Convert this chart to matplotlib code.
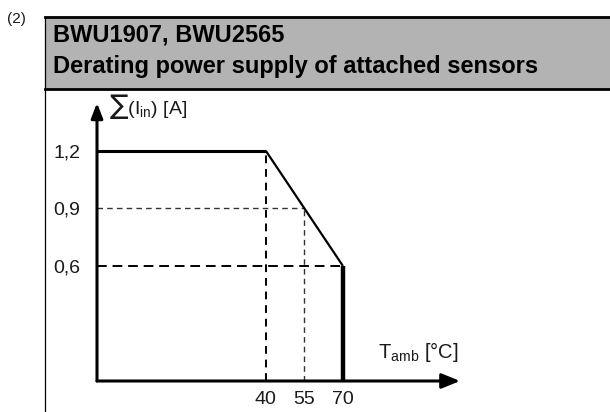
import matplotlib
matplotlib.use("Agg")
import matplotlib.pyplot as plt
from matplotlib.patches import Rectangle
from matplotlib.lines import Line2D

plt.rcParams['font.family'] = ['Liberation Sans', 'DejaVu Sans']
plt.rcParams['mathtext.default'] = 'regular'

# Daten der Derating-Kurve
temps = [40, 55, 70]          # T_amb [°C]
currents = [1.2, 0.9, 0.6]    # Summe I_in [A]
x_ticks = [40, 55, 70]
x_labels = ['40', '55', '70']
y_ticks = [0.6, 0.9, 1.2]
y_labels = ['0,6', '0,9', '1,2']

W, H = 610, 412
fig = plt.figure(figsize=(W / 100, H / 100), dpi=100)

# Kopfzeile (grauer Kasten) + linker Rahmen
fig.patches.append(Rectangle((45 / W, 1 - 89 / H), 1 - 45 / W, 72 / H,
                             transform=fig.transFigure, facecolor='#b3b3b3',
                             edgecolor='none'))
fig.lines.append(Line2D([45 / W, 1], [1 - 17 / H] * 2, transform=fig.transFigure,
                        color='black', lw=2))
fig.lines.append(Line2D([45 / W, 1], [1 - 89 / H] * 2, transform=fig.transFigure,
                        color='black', lw=2))
fig.lines.append(Line2D([45 / W] * 2, [0, 1 - 17 / H], transform=fig.transFigure,
                        color='black', lw=0.9))
fig.text(7 / W, 1 - 19 / H, '(2)', fontsize=11, va='center', ha='left',
         color='#1a1a1a')
fig.text(53 / W, 1 - 35 / H, 'BWU1907, BWU2565', fontsize=17, weight='bold',
         va='center', ha='left')
fig.text(53 / W, 1 - 67 / H, 'Derating power supply of attached sensors',
         fontsize=17, weight='bold', va='center', ha='left')

# Diagramm
x0, x1 = -25.8, 115.6
y0, y1 = 0, 1.45
ax = fig.add_axes([97 / W, (H - 381) / H, 363 / W, 278 / H])
ax.set_xlim(x0, x1)
ax.set_ylim(y0, y1)
for s in ax.spines.values():
    s.set_visible(False)
ax.patch.set_visible(False)

# Achsen mit Pfeilen
ax.annotate('', xy=(x1, 0), xytext=(x0, 0),
            arrowprops=dict(arrowstyle='-|>,head_length=1.1,head_width=0.45',
                            lw=2.2, color='black', shrinkA=0, shrinkB=0),
            annotation_clip=False)
ax.annotate('', xy=(x0, y1), xytext=(x0, 0),
            arrowprops=dict(arrowstyle='-|>,head_length=0.9,head_width=0.35',
                            lw=2.2, color='black', shrinkA=0, shrinkB=0),
            annotation_clip=False)

# Hilfslinien (gestrichelt)
ax.plot([temps[0], temps[0]], [0, currents[0]], color='black', lw=1.4,
        ls=(0, (4, 3)))
ax.plot([temps[1], temps[1]], [0, currents[1]], color='#333333', lw=1.0,
        ls=(0, (4, 3)))
ax.plot([x0, temps[1]], [currents[1], currents[1]], color='#333333', lw=1.0,
        ls=(0, (4, 3)))
ax.plot([x0, temps[2]], [currents[2], currents[2]], color='black', lw=1.4,
        ls=(0, (5, 3)))

# Kennlinie
ax.plot([x0, temps[0]], [currents[0], currents[0]], color='black', lw=2.2,
        solid_capstyle='butt')
ax.plot(temps, currents, color='black', lw=1.6, solid_capstyle='butt')
ax.plot([temps[2], temps[2]], [0, currents[2]], color='black', lw=3.2,
        solid_capstyle='butt')

ax.set_xticks(x_ticks, x_labels)
ax.set_yticks(y_ticks, y_labels)
ax.tick_params(length=0, labelsize=14, labelcolor='#1a1a1a')
ax.tick_params(axis='x', pad=7)
ax.tick_params(axis='y', pad=12)

ax.text(-21, 1.43, '\u2211(I$_{in}$) [A]', fontsize=14, color='#1a1a1a',
        va='center', ha='left')
ax.text(115, 0.15, 'T$_{amb}$ [°C]', fontsize=14.5, color='#1a1a1a',
        va='center', ha='right')

fig.savefig('out.png', dpi=100)
